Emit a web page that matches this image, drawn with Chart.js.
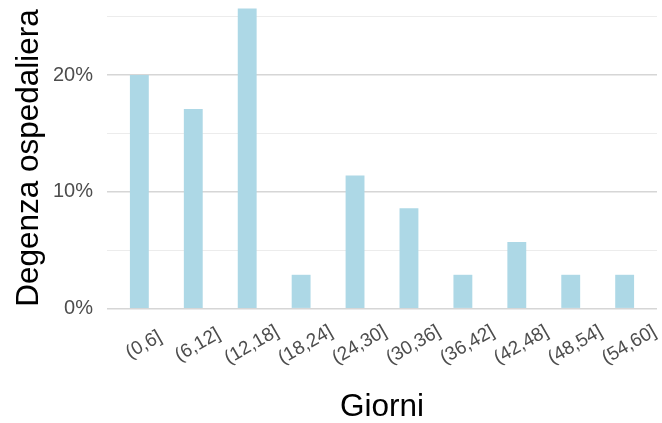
<!DOCTYPE html>
<html lang="it">
<head>
    <meta charset="UTF-8">
    <title>Degenza ospedaliera</title>
    <style>
        body { margin: 0; background: white; }
        #wrap { width: 662px; height: 423px; }
    </style>
    <script src="https://cdn.jsdelivr.net/npm/chart.js@4.4.1/dist/chart.umd.js"></script>
</head>
<body>
    <div id="wrap"><canvas id="degenzaChart"></canvas></div>

    <script>
        // Classi di giorni e percentuale di pazienti
        const categories = ['(0,6]', '(6,12]', '(12,18]', '(18,24]', '(24,30]', '(30,36]', '(36,42]', '(42,48]', '(48,54]', '(54,60]'];
        const percentages = [20.0, 17.1, 25.7, 2.9, 11.4, 8.6, 2.9, 5.7, 2.9, 2.9];
        const yTicks = [0, 5, 10, 15, 20, 25];

        const FONT = '"Liberation Sans", Arial, sans-serif';

        // Rotated x labels centred on each bar (ggplot style, angle 30)
        const xLabels = {
            id: 'xLabels',
            afterDraw(chart) {
                const xs = chart.scales.x;
                const ctx = chart.ctx;
                ctx.save();
                ctx.font = '19px ' + FONT;
                ctx.fillStyle = '#4d4d4d';
                ctx.textAlign = 'center';
                ctx.textBaseline = 'middle';
                categories.forEach((label, i) => {
                    ctx.save();
                    ctx.translate(xs.getPixelForValue(i) + 4.5, xs.top + 34);
                    ctx.rotate(-Math.PI / 6);
                    ctx.fillText(label, 0, 0);
                    ctx.restore();
                });
                ctx.restore();
            }
        };

        new Chart(document.getElementById('degenzaChart'), {
            type: 'bar',
            data: {
                datasets: [{
                    data: categories.map((c, i) => ({x: i, y: percentages[i]})),
                    backgroundColor: '#add8e6',
                    borderWidth: 0,
                    categoryPercentage: 1,
                    barPercentage: 0.35
                }]
            },
            options: {
                animation: false,
                responsive: true,
                maintainAspectRatio: false,
                layout: { padding: { top: 5, right: 5, left: 0, bottom: 0 } },
                scales: {
                    x: {
                        type: 'linear',
                        offset: false,
                        min: -0.6,
                        max: 9.6,
                        grid: { display: false },
                        border: { display: false },
                        ticks: { display: false },
                        afterFit: scale => {
                            scale.height = 112;
                            scale.paddingLeft = 0;
                            scale.paddingRight = 0;
                        },
                        title: {
                            display: true,
                            text: 'Giorni',
                            color: '#000',
                            font: { family: FONT, size: 31.5, lineHeight: 1 },
                            padding: { top: 0, bottom: 0 }
                        }
                    },
                    y: {
                        min: -0.2,
                        max: 26,
                        afterBuildTicks: scale => { scale.ticks = yTicks.map(v => ({value: v})); },
                        afterFit: scale => {
                            scale.width = 107;
                            scale.paddingTop = 0;
                            scale.paddingBottom = 0;
                        },
                        border: { display: false },
                        grid: {
                            drawTicks: false,
                            color: c => c.tick.value % 10 === 0 ? '#d6d6d6' : '#ececec',
                            lineWidth: c => c.tick.value % 10 === 0 ? 1.5 : 1
                        },
                        ticks: {
                            padding: 14,
                            color: '#4d4d4d',
                            font: { family: FONT, size: 20 },
                            callback: v => v % 10 === 0 ? v + '%' : ''
                        },
                        title: {
                            display: true,
                            text: 'Degenza ospedaliera',
                            color: '#000',
                            font: { family: FONT, size: 31.5, lineHeight: 1 },
                            padding: { top: 14, bottom: 0 }
                        }
                    }
                },
                plugins: {
                    legend: { display: false },
                    tooltip: { enabled: false }
                }
            },
            plugins: [xLabels]
        });
    </script>
</body>
</html>
